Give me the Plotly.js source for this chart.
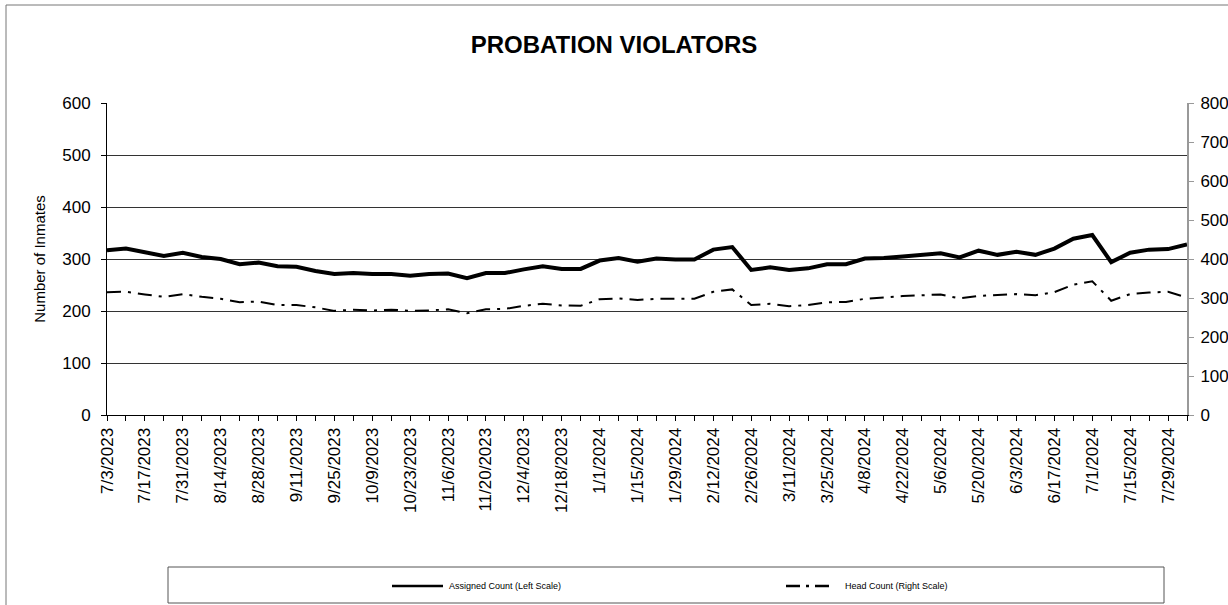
<!DOCTYPE html>
<html>
<head>
<meta charset="utf-8">
<script src="https://cdn.plot.ly/plotly-3.0.1.min.js"></script>
<style>
html,body{margin:0;padding:0;background:#fff;}
#chart{width:1228px;height:605px;}
</style>
</head>
<body>
<div id="chart"></div>
<script>
// Weekly dates (categories)
const weeks = [
  "7/3/2023","7/10/2023","7/17/2023","7/24/2023","7/31/2023","8/7/2023","8/14/2023","8/21/2023",
  "8/28/2023","9/4/2023","9/11/2023","9/18/2023","9/25/2023","10/2/2023","10/9/2023","10/16/2023",
  "10/23/2023","10/30/2023","11/6/2023","11/13/2023","11/20/2023","11/27/2023","12/4/2023","12/11/2023",
  "12/18/2023","12/25/2023","1/1/2024","1/8/2024","1/15/2024","1/22/2024","1/29/2024","2/5/2024",
  "2/12/2024","2/19/2024","2/26/2024","3/4/2024","3/11/2024","3/18/2024","3/25/2024","4/1/2024",
  "4/8/2024","4/15/2024","4/22/2024","4/29/2024","5/6/2024","5/13/2024","5/20/2024","5/27/2024",
  "6/3/2024","6/10/2024","6/17/2024","6/24/2024","7/1/2024","7/8/2024","7/15/2024","7/22/2024",
  "7/29/2024","8/5/2024"
];

// Assigned Count (left scale)
const assignedCount = [
  317,320,313,306,312,304,300,290,293,286,
  285,277,271,273,271,271,268,271,272,263,
  273,273,280,286,281,281,297,302,295,301,
  299,299,318,323,279,284,279,282,290,290,
  301,302,305,308,311,303,316,308,314,308,
  320,339,346,294,312,318,319,328
];

// Head Count (right scale)
const headCount = [
  315,316,309,303,310,303,298,289,291,282,
  282,276,267,270,268,270,267,268,271,261,
  271,272,280,285,281,280,297,299,295,298,
  298,298,316,322,282,285,279,282,289,290,
  298,302,305,307,309,299,305,308,310,307,
  315,334,343,293,310,314,316,301
];

// Tick labels: every other week is labelled
const tickLabels = weeks.map((w, i) => (i % 2 === 0 ? w : ""));

const FONT = "Liberation Sans, Arial, Helvetica, sans-serif";
const NARROW = "Liberation Sans Narrow, Arial Narrow, Liberation Sans, Arial, sans-serif";

const traces = [
  {
    x: weeks, y: assignedCount, type: "scatter", mode: "lines",
    name: "Assigned Count (Left Scale)",
    line: {color: "#000", width: 4}, yaxis: "y", showlegend: false
  },
  {
    x: weeks, y: headCount, type: "scatter", mode: "lines",
    name: "Head Count (Right Scale)",
    line: {color: "#000", width: 2, dash: "14px,7px,3px,7px"}, yaxis: "y2", showlegend: false
  }
];

// plot area: x 107..1187, y 103..415
const L = 107, R = 1187, T = 103, B = 415;
const px = v => (v - L) / (R - L);
const py = v => (B - v) / (B - T);

const layout = {
  width: 1228, height: 605,
  margin: {l: L, r: 1228 - R, t: T, b: 605 - B},
  paper_bgcolor: "#fff", plot_bgcolor: "#fff",
  font: {family: FONT, color: "#000", size: 15},
  title: {
    text: "<b>PROBATION VIOLATORS</b>",
    font: {family: FONT, size: 24, color: "#000"},
    x: 0.5, xanchor: "center", y: 1 - 45 / 605, yanchor: "middle"
  },
  xaxis: {
    type: "category",
    range: [0, weeks.length - 1],
    tickmode: "array", tickvals: weeks, ticktext: tickLabels,
    tickangle: -90,
    ticks: "outside", ticklen: 5, tickcolor: "#000",
    showline: true, linecolor: "#000", linewidth: 1,
    showgrid: false, zeroline: false,
    tickfont: {family: FONT, size: 17, color: "#000"}
  },
  yaxis: {
    range: [0, 600], dtick: 100,
    ticks: "outside", ticklen: 5, tickcolor: "#000",
    ticklabelstandoff: 7,
    showline: true, linecolor: "#000", linewidth: 1,
    showgrid: true, gridcolor: "#333", gridwidth: 1,
    zeroline: false,
    tickfont: {family: FONT, size: 17, color: "#000"},
    title: {text: "Number of Inmates", font: {family: FONT, size: 15, color: "#000"}, standoff: 12}
  },
  yaxis2: {
    overlaying: "y", side: "right",
    range: [0, 800], dtick: 100,
    ticks: "outside", ticklen: 5, tickcolor: "#999",
    ticklabelstandoff: 3,
    showline: true, linecolor: "#999", linewidth: 2,
    showgrid: false, zeroline: false,
    tickfont: {family: FONT, size: 17, color: "#000"}
  },
  shapes: [
    // outer chart frame
    {type: "rect", xref: "paper", yref: "paper",
     x0: px(6), x1: px(1240), y0: py(620), y1: py(5),
     line: {color: "#777", width: 1}, fillcolor: "rgba(0,0,0,0)", layer: "below"},
    // legend box
    {type: "rect", xref: "paper", yref: "paper",
     x0: px(168), x1: px(1164), y0: py(603), y1: py(567),
     line: {color: "#555", width: 1}, fillcolor: "rgba(0,0,0,0)"},
    // legend samples
    {type: "line", xref: "paper", yref: "paper",
     x0: px(392), x1: px(443), y0: py(586), y1: py(586),
     line: {color: "#000", width: 2.5}},
    {type: "line", xref: "paper", yref: "paper",
     x0: px(786), x1: px(834), y0: py(586), y1: py(586),
     line: {color: "#000", width: 2.5, dash: "14px,6px,3px,6px"}}
  ],
  annotations: [
    {xref: "paper", yref: "paper", x: px(447), y: py(586), xanchor: "left", yanchor: "middle",
     text: traces[0].name, showarrow: false, font: {family: NARROW, size: 9, color: "#000"}},
    {xref: "paper", yref: "paper", x: px(843), y: py(586), xanchor: "left", yanchor: "middle",
     text: traces[1].name, showarrow: false, font: {family: NARROW, size: 9, color: "#000"}}
  ],
  showlegend: false
};

Plotly.newPlot("chart", traces, layout, {displayModeBar: false, staticPlot: true});
</script>
</body>
</html>
